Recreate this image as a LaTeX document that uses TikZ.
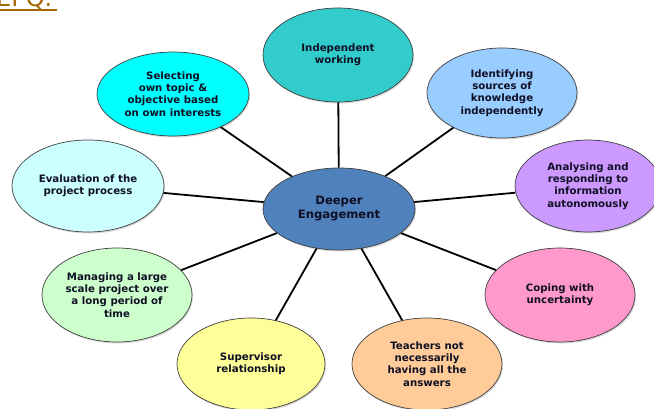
\documentclass[tikz,border=0pt]{standalone}
\usepackage{fontspec}
\setmainfont{DejaVu Sans}
\usetikzlibrary{shapes.geometric,shadows}
\definecolor{txt}{RGB}{15,15,35}
\definecolor{brn}{RGB}{165,105,10}
\definecolor{cIndep}{RGB}{51,204,204}
\definecolor{cSel}{RGB}{0,255,255}
\definecolor{cIdent}{RGB}{153,204,255}
\definecolor{cAna}{RGB}{204,153,255}
\definecolor{cEval}{RGB}{204,255,255}
\definecolor{cCore}{RGB}{79,129,189}
\definecolor{cMan}{RGB}{204,255,204}
\definecolor{cCop}{RGB}{255,153,204}
\definecolor{cSup}{RGB}{255,255,153}
\definecolor{cTea}{RGB}{255,204,153}
\begin{document}
\begin{tikzpicture}[x=1pt,y=1pt,
  bub/.style={ellipse, draw=black!75, line width=0.7pt, inner sep=0pt, align=center,
    font=\bfseries\fontsize{10.2}{12.2}\selectfont, text=txt,
    drop shadow={shadow xshift=1pt,shadow yshift=-1.5pt,opacity=0.3}},
  link/.style={line width=1.8pt, black}]
\useasboundingbox (0,0) rectangle (654,408);
\node[anchor=base west, inner sep=0pt, text=brn, font=\fontsize{24}{24}\selectfont] (title) at (-4,401) {EPQ.};
\draw[brn, line width=1.6pt] (0,398) -- (57,398);

\node[bub, fill=cCore, minimum width=152, minimum height=82, font=\bfseries\fontsize{11.6}{14}\selectfont] (core) at (339,199) {Deeper\\Engagement};
\node[bub, fill=cIndep, minimum width=150, minimum height=94] (indep) at (338,353) {Independent\\working};
\node[bub, fill=cSel, minimum width=152, minimum height=84] (sel) at (173,314) {Selecting\\own topic \&\\objective based\\on own interests};
\node[bub, fill=cIdent, minimum width=150, minimum height=90] (ident) at (502,315) {Identifying\\sources of\\knowledge\\independently};
\node[bub, fill=cAna, minimum width=146, minimum height=92] (ana) at (588,222) {Analysing and\\responding to\\information\\autonomously};
\node[bub, fill=cEval, minimum width=152, minimum height=92] (eval) at (88,222) {Evaluation of the\\project process};
\node[bub, fill=cMan, minimum width=150, minimum height=94] (man) at (117,113) {Managing a large\\scale project over\\a long period of\\time};
\node[bub, fill=cCop, minimum width=150, minimum height=94] (cop) at (560,113) {Coping with\\uncertainty};
\node[bub, fill=cSup, minimum width=148, minimum height=92] (sup) at (251,44) {Supervisor\\relationship};
\node[bub, fill=cTea, minimum width=150, minimum height=92] (tea) at (427,44) {Teachers not\\necessarily\\having all the\\answers};

\foreach \n in {indep,sel,ident,ana,eval,man,cop,sup,tea}
  \draw[link] (core) -- (\n);
\end{tikzpicture}
\end{document}
